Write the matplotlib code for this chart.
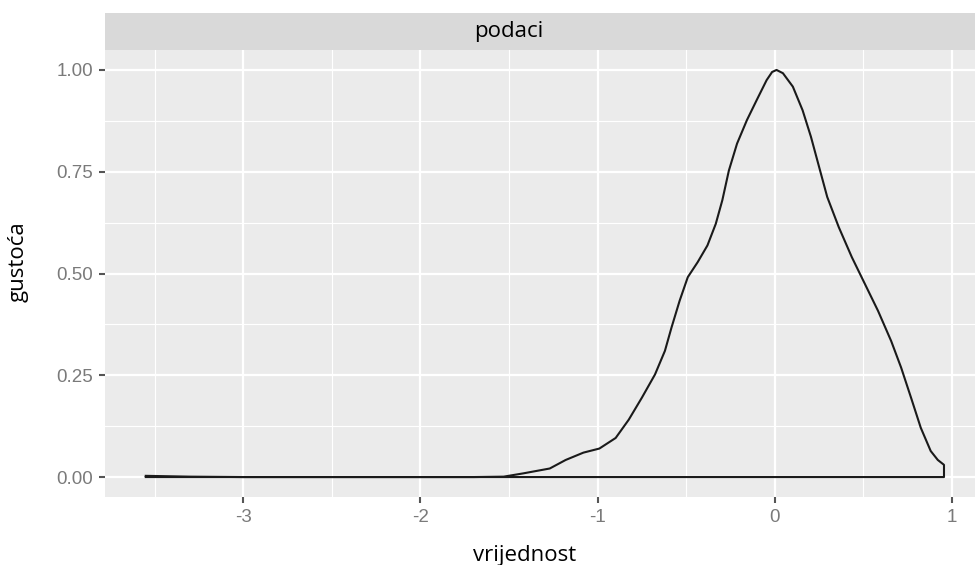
import matplotlib.pyplot as plt

# tocke krivulje gustoce ocitane sa slike
x_vals = [-3.55, -3.3, -3.0, -2.5, -2.0, -1.7, -1.53, -1.42, -1.27, -1.18, -1.08, -0.99,
          -0.898, -0.824, -0.75, -0.676, -0.62, -0.583, -0.537, -0.491, -0.435, -0.38,
          -0.333, -0.296, -0.259, -0.213, -0.157, -0.102, -0.046, -0.015, 0.01, 0.046,
          0.102, 0.157, 0.204, 0.25, 0.296, 0.361, 0.435, 0.509, 0.583, 0.657, 0.713,
          0.769, 0.824, 0.88, 0.92, 0.955]
y_vals = [0.003, 0.001, 0.0, 0.0, 0.0, 0.0, 0.001, 0.009, 0.021, 0.042, 0.060, 0.070,
          0.096, 0.141, 0.195, 0.252, 0.310, 0.367, 0.433, 0.491, 0.528, 0.569,
          0.622, 0.680, 0.753, 0.819, 0.877, 0.926, 0.975, 0.995, 1.0, 0.992,
          0.959, 0.901, 0.836, 0.762, 0.688, 0.614, 0.540, 0.474, 0.408, 0.334, 0.269,
          0.195, 0.121, 0.064, 0.042, 0.030]

x_ticks = [-3, -2, -1, 0, 1]
y_ticks = [0.0, 0.25, 0.5, 0.75, 1.0]
y_labels = ['0.00', '0.25', '0.50', '0.75', '1.00']

W, H = 975, 565
fig = plt.figure(figsize=(W / 100, H / 100), dpi=100)
ax = fig.add_axes([105 / W, 68 / H, 870 / W, 447 / H])
ax.set_facecolor('#EBEBEB')

# poligon gustoce, zatvoren po nuli
px = x_vals + [x_vals[-1], x_vals[0]]
py = y_vals + [0.0, 0.0]
ax.plot(px, py, color='#1a1a1a', lw=1.5, solid_joinstyle='round')

ax.set_xlim(-3.78, 1.13)
ax.set_ylim(-0.049, 1.049)

ax.set_xticks(x_ticks)
ax.set_xticklabels([str(t) for t in x_ticks])
ax.set_yticks(y_ticks)
ax.set_yticklabels(y_labels)
ax.set_xticks([-3.5, -2.5, -1.5, -0.5, 0.5], minor=True)
ax.set_yticks([0.125, 0.375, 0.625, 0.875], minor=True)

ax.grid(which='major', color='white', lw=1.6)
ax.grid(which='minor', color='white', lw=0.8)
ax.set_axisbelow(True)

for s in ax.spines.values():
    s.set_visible(False)

ax.tick_params(which='major', length=4.5, width=1.5, color='#555555',
               labelcolor='#7a7a7a', labelsize=13.5, pad=4)
ax.tick_params(which='minor', length=0)
for lab in ax.get_xticklabels() + ax.get_yticklabels():
    lab.set_family(['Liberation Sans', 'DejaVu Sans'])

# naslovi osi
fig.text(525 / W, 4 / H, 'vrijednost', ha='center', va='baseline',
         fontsize=16, family='Open Sans')
fig.text(18 / W, (H - 262) / H, 'gustoća', ha='center', va='center',
         rotation=90, fontsize=16, family='Open Sans')

# traka s naslovom facete
strip = fig.add_axes([105 / W, 515 / H, 870 / W, 37 / H])
strip.set_facecolor('#D9D9D9')
strip.set_xticks([])
strip.set_yticks([])
for s in strip.spines.values():
    s.set_visible(False)
fig.text(509 / W, (H - 31) / H, 'podaci', ha='center', va='center',
         fontsize=16, family='Open Sans')

fig.savefig('out.png', dpi=100)
